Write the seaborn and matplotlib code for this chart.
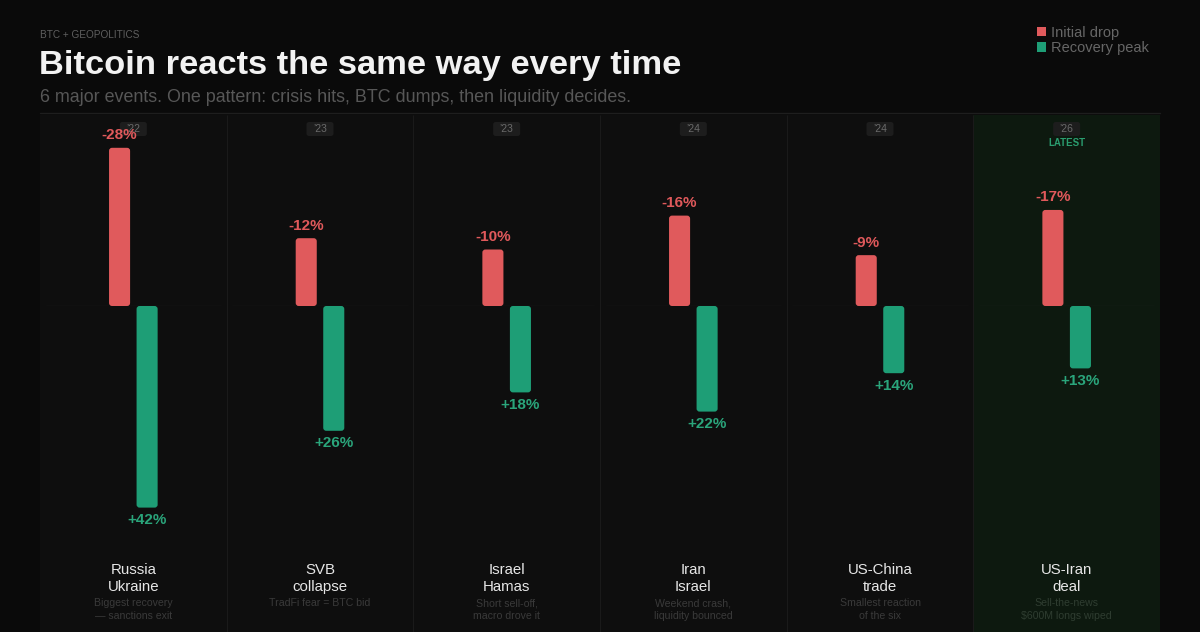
import numpy as np
import pandas as pd
import matplotlib
matplotlib.use("Agg")
import matplotlib.pyplot as plt
from matplotlib.patches import Rectangle, FancyBboxPatch
from matplotlib.lines import Line2D
import seaborn as sns

# ---------------- data ----------------
events = ["Russia\nUkraine", "SVB\ncollapse", "Israel\nHamas",
          "Iran\nIsrael", "US-China\ntrade", "US-Iran\ndeal"]
years = ["\u201922", "\u201923", "\u201923", "\u201924", "\u201924", "\u201926"]
notes = ["Biggest recovery\n\u2014 sanctions exit", "TradFi fear = BTC bid",
         "Short sell-off,\nmacro drove it", "Weekend crash,\nliquidity bounced",
         "Smallest reaction\nof the six", "Sell-the-news\n\\$600M longs wiped"]
initial_drop = [28, 12, 10, 16, 9, 17]      # % fall (shown as negative)
recovery_peak = [42, 26, 18, 22, 14, 13]    # % rebound
latest_event = "US-Iran\ndeal"
series = ["Initial drop", "Recovery peak"]

# ---------------- style ----------------
BG = "#0a0a0a"
PANEL = "#0e0e0e"
HILITE = "#0d190f"
RED = "#e05a5c"
GREEN = "#1e9e76"
RED_TXT = "#e0595b"
GREEN_TXT = "#2aa57b"

sns.set_theme(style="dark", rc={"figure.facecolor": BG, "axes.facecolor": BG,
                                "savefig.facecolor": BG})
plt.rcParams["font.family"] = ["Liberation Sans", "DejaVu Sans"]

W, H = 1200, 632
fig = plt.figure(figsize=(W / 100, H / 100), dpi=100)


def fx(p):
    return p / W


def fy(p):
    return 1 - p / H


L, R = 40, 1160
TOP_LINE = 113
ZERO = 306
DROP_PX = 5.65   # px per % for drops
REC_PX = 4.8     # px per % for recovery
n = len(events)
px_per_cat = (R - L) / n

# background axes: x in category units, y in pixels (top-down)
ax_bg = fig.add_axes([fx(L), 0, fx(R - L), 1])
ax_bg.set_xlim(-0.5, n - 0.5)
ax_bg.set_ylim(H, 0)
ax_bg.set_axis_off()

for i, ev in enumerate(events):
    fc = HILITE if ev == latest_event else PANEL
    ax_bg.add_patch(Rectangle((i - 0.5, 115), 1, H - 115, fc=fc, ec="none", zorder=0))
for i in range(1, n):
    ax_bg.vlines(i - 0.5, 115, H, color="#1a1a1a", lw=0.8, zorder=1)

fig.add_artist(Line2D([fx(L), fx(R)], [fy(TOP_LINE)] * 2, color="#1e1e1e", lw=1))

# header
fig.text(fx(40), fy(38), "BTC + GEOPOLITICS", fontsize=7.2, color="#5f5f5f", va="baseline")
fig.text(fx(39), fy(74), "Bitcoin reacts the same way every time", fontsize=24.8,
         fontweight="bold", color="#f2f2f2", va="baseline")
fig.text(fx(40), fy(102), "6 major events. One pattern: crisis hits, BTC dumps, then liquidity decides.",
         fontsize=12.9, color="#575757", va="baseline")


def round_patch(ax, x, y, w, h, r_px, px_x, px_y, **kw):
    r = r_px / px_x
    p = FancyBboxPatch((x, y), w, h, boxstyle=f"round,pad=0,rounding_size={r}",
                       mutation_aspect=px_x / px_y, **kw)
    ax.add_patch(p)
    return p


# year badges, labels, notes
for i, ev in enumerate(events):
    bw = 27 / px_per_cat
    round_patch(ax_bg, i - bw / 2, 122, bw, 14, 2.5, px_per_cat, 1.0,
                fc="#1d1d1d", ec="none", zorder=2)
    ax_bg.text(i, 129.5, years[i], ha="center", va="center", fontsize=7.5,
               color="#6a6a6a", zorder=3)
    if ev == latest_event:
        ax_bg.text(i, 142.5, "LATEST", ha="center", va="center", fontsize=7,
                   fontweight="bold", color="#2a9d6f", zorder=3)
    ax_bg.text(i, 578.5, ev, ha="center", va="center", fontsize=10.8,
               color="#e6e6e6", linespacing=1.25, zorder=3)
    ax_bg.text(i, 598, notes[i], ha="center", va="top", fontsize=7.6,
               color="#2f3d31" if ev == latest_event else "#3a3a3a",
               linespacing=1.35, zorder=3)

# ---------------- bars ----------------
df = pd.DataFrame({
    "event": events * 2,
    "kind": [series[0]] * n + [series[1]] * n,
    "value": initial_drop + recovery_peak,
})
palette = {series[0]: RED, series[1]: GREEN}

top_h = ZERO - TOP_LINE
bot_h = 560 - ZERO
ax_top = fig.add_axes([fx(L), fy(ZERO), fx(R - L), top_h / H])
ax_bot = fig.add_axes([fx(L), fy(560), fx(R - L), bot_h / H])

for ax, kind in ((ax_top, series[0]), (ax_bot, series[1])):
    sns.barplot(data=df[df["kind"] == kind], x="event", y="value", hue="kind",
                hue_order=series, palette=palette, order=events, dodge=True,
                width=0.295, gap=0.235, errorbar=None, saturation=1,
                legend=True, ax=ax)
    ax.set_xlim(-0.5, n - 0.5)
    ax.patch.set_alpha(0)

ax_top.set_ylim(0, top_h / DROP_PX)
ax_bot.set_ylim(bot_h / REC_PX, 0)

for i in range(n):
    ax_top.hlines(0, i - 0.47, i + 0.47, color="#232323", lw=0.9, zorder=0)

# value labels
for ax, vals, col, fmt, pad in ((ax_top, initial_drop, RED_TXT, "-{}%", 4),
                                (ax_bot, recovery_peak, GREEN_TXT, "+{}%", 4)):
    conts = [c for c in ax.containers if len(c.patches) > 0]
    c = conts[0]
    ax.bar_label(c, labels=[fmt.format(v) for v in vals], padding=pad,
                 color=col, fontsize=11, fontweight="bold")

# legend (collect from seaborn legends)
handles = {}
for ax in (ax_top, ax_bot):
    leg = ax.get_legend()
    if leg is not None:
        for h_, t in zip(leg.legend_handles, leg.get_texts()):
            handles.setdefault(t.get_text(), h_)
        leg.remove()
lab = [s for s in series if s in handles]
fl = fig.legend([handles[s] for s in lab], lab, loc="upper left",
                bbox_to_anchor=(fx(1037), fy(25.5)), frameon=False, fontsize=10.5,
                labelcolor="#666666", handlelength=0.6, handleheight=0.6,
                handletextpad=0.35, labelspacing=0.12, borderpad=0, borderaxespad=0)
for h_ in fl.legend_handles:
    h_.set_edgecolor("none")

# rounded bar corners
for ax, pxy in ((ax_top, DROP_PX), (ax_bot, REC_PX)):
    for c in ax.containers:
        for p in c.patches:
            if np.isnan(p.get_height()) or p.get_height() == 0:
                continue
            round_patch(ax, p.get_x(), p.get_y(), p.get_width(), p.get_height(),
                        3, px_per_cat, pxy, fc=p.get_facecolor(), ec="none", zorder=2)
            p.set_visible(False)
    ax.set_axis_off()

fig.savefig("out.png", dpi=100, facecolor=BG)
